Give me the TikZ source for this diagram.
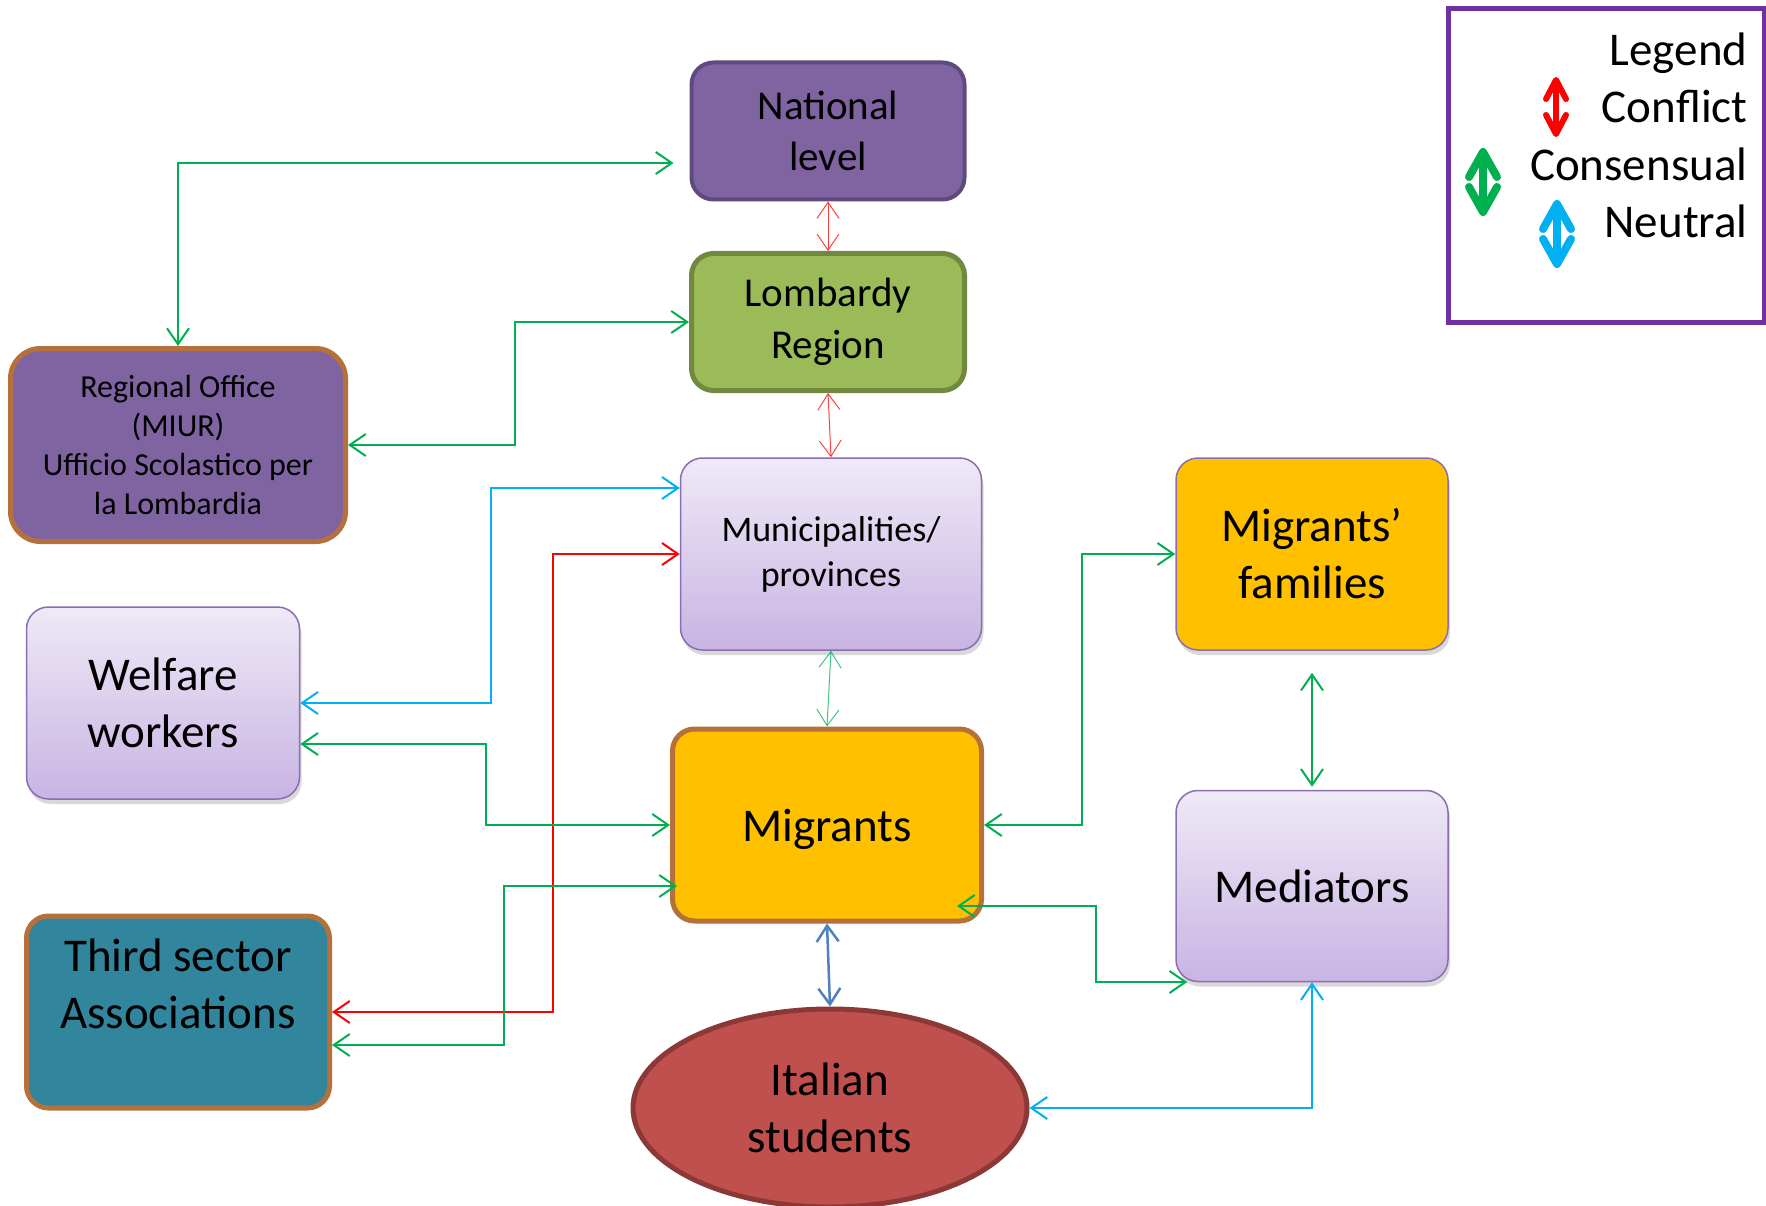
\documentclass[tikz,border=0pt]{standalone}
\usepackage{fontspec}
\setmainfont{Carlito}
\usepackage{tikz}
\usetikzlibrary{arrows.meta,shadows,shapes.geometric}
\usepackage{xcolor}
\definecolor{officepurple}{HTML}{8064A2}
\definecolor{darkpurple}{HTML}{5E4A7C}
\definecolor{leafgreen}{HTML}{9BBB59}
\definecolor{darkleaf}{HTML}{71893F}
\definecolor{rust}{HTML}{B6703A}
\definecolor{liltop}{HTML}{EFE9F7}
\definecolor{lilbot}{HTML}{C8B4E3}
\definecolor{lilline}{HTML}{8B6DB0}
\definecolor{gold}{HTML}{FFC000}
\definecolor{teal}{HTML}{31859C}
\definecolor{brick}{HTML}{C0504D}
\definecolor{darkbrick}{HTML}{8C3836}
\definecolor{legendline}{HTML}{7030A0}
\definecolor{consgreen}{HTML}{00B050}
\definecolor{neutcyan}{HTML}{00B0F0}
\definecolor{steel}{HTML}{4F81BD}

\begin{document}
\begin{tikzpicture}[x=1pt,y=-1pt]

		\tikzset{actor/.style = {shape=rectangle,rounded corners=22pt,draw,inner sep=0pt,align=center,font=\fontsize{47}{57}\selectfont}}
		\tikzset{lilac/.style = {actor,draw=lilline,line width=1.5pt,top color=liltop,bottom color=lilbot,drop shadow={shadow xshift=2pt,shadow yshift=-5pt,opacity=0.3}}}
		\tikzset{tie/.style = {<->,>={Straight Barb[length=16pt,width=22pt]},line width=2pt}}
		\tikzset{conflict/.style = {tie,red}}
		\tikzset{consensual/.style = {tie,consgreen}}
		\tikzset{neutral/.style = {tie,neutcyan}}
		\tikzset{faint/.style = {line width=1pt,opacity=0.75}}
		\tikzset{keytip/.style 2 args = {{Straight Barb[round,length=#1,width=#2]}-{Straight Barb[round,length=#1,width=#2]}}}
		\useasboundingbox (0,0) rectangle (1766,1206);

		% vertices
		% top levels
		\node[actor,fill=officepurple,draw=darkpurple,line width=4pt,minimum width=273pt,minimum height=137pt,font=\fontsize{41}{51}\selectfont] (natl) at (828,131) {National\\level};
		\node[actor,fill=leafgreen,draw=darkleaf,line width=5pt,minimum width=273pt,minimum height=137pt,font=\fontsize{41}{52}\selectfont,text depth=8pt] (lomb) at (828,322) {Lombardy\\Region};
		\node[actor,fill=officepurple,draw=rust,line width=5pt,rounded corners=30pt,minimum width=335pt,minimum height=193pt,font=\fontsize{32}{39}\selectfont] (office) at (178,445) {Regional Office\\(MIUR)\\Ufficio Scolastico per\\la Lombardia};
		\node[lilac,minimum width=301pt,minimum height=192pt,font=\fontsize{36}{45}\selectfont] (muni) at (831,554) {Municipalities/\\provinces};
		% left column
		\node[lilac,minimum width=273pt,minimum height=192pt] (welf) at (163,703) {Welfare\\workers};
		\node[actor,fill=teal,draw=rust,line width=5pt,minimum width=303pt,minimum height=192pt] (third) at (178,1012) {Third sector\\Associations\\\mbox{}};
		% centre
		\node[actor,fill=gold,draw=rust,line width=5pt,minimum width=309pt,minimum height=192pt,text depth=0pt] (migr) at (827,825) {Migrants};
		\node[actor,shape=ellipse,fill=brick,draw=darkbrick,line width=5pt,minimum width=394pt,minimum height=198pt] (stud) at (830,1108) {Italian\\students};
		% right column
		\node[lilac,fill=gold,top color=gold,bottom color=gold,minimum width=272pt,minimum height=192pt] (fam) at (1312,554) {Migrants’\\families};
		\node[lilac,minimum width=272pt,minimum height=191pt] (med) at (1312,886) {Mediators};

		% legend
		\draw[legendline,line width=5pt] (1448,9) rectangle (1764,322);
		\node[anchor=base east,font=\fontsize{47}{57}\selectfont] (lgnd) at (1751,66) {Legend};
		\node[anchor=base east,font=\fontsize{47}{57}\selectfont] (lconf) at (1751,123) {Conflict};
		\node[anchor=base east,font=\fontsize{47}{57}\selectfont] (lcons) at (1751,181) {Consensual};
		\node[anchor=base east,font=\fontsize{47}{57}\selectfont] (lneut) at (1751,238) {Neutral};
		\draw[red,line width=6pt,keytip={19pt}{20pt}] (1556,77) -- (1556,137);
		\draw[consgreen,line width=8pt,keytip={25pt}{28pt}] (1483,148) -- (1483,216);
		\draw[neutcyan,line width=8pt,keytip={25pt}{28pt}] (1557,200) -- (1557,268);

		%edges
		% government
		\draw[consensual] ([shift={(-16,32)}]natl.west) -| (office.north);
		\draw[conflict,faint] (natl.south) -- (lomb.north);
		\draw[consensual] (lomb.west) -- ++(-174,0) |- (office.east);
		\draw[conflict,faint] (lomb.south) -- (muni.north);
		% municipalities
		\draw[neutral] ([yshift=66pt]muni.west) -- ++(-189,0) |- (welf.east);
		\draw[conflict] (muni.west) -- ++(-127,0) |- (third.east);
		\draw[consensual,faint] (muni.south) -- (migr.north);
		% migrants
		\draw[consensual] ([yshift=-41pt]welf.east) -- ++(186,0) |- (migr.west);
		\draw[consensual] ([shift={(7,61)}]migr.west) -- ++(-173,0) |- ([yshift=-33pt]third.east);
		\draw[consensual] (migr.east) -- ++(98,0) |- (fam.west);
		\draw[consensual] ([shift={(-27,81)}]migr.east) -- ++(139,0) |- ([shift={(12,96)}]med.west);
		\draw[consensual,shorten <=22pt,shorten >=3pt] (fam.south) -- (med.north);
		\draw[tie,steel,line width=2.5pt] (migr.south) -- (stud.north);
		\draw[neutral] (stud.east) -| (med.south);

\end{tikzpicture}
\end{document}
